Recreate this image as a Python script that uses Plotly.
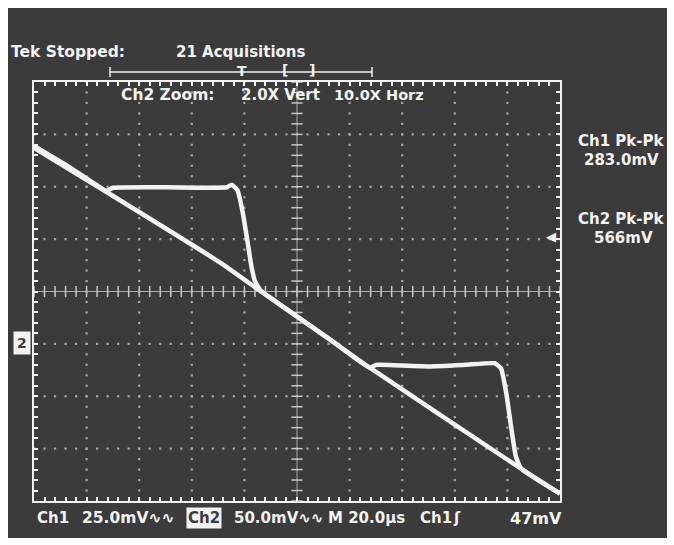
import numpy as np
import plotly.graph_objects as go

# Screen geometry (pixels) for the 674x545 page
W, H = 674, 545
GRID_L, GRID_R, GRID_T, GRID_B = 34, 560, 82, 501
BG = "#3b3b3b"
FG = "#f2f2f2"
DOT = "#a8a8a8"
FONT = "DejaVu Sans, Open Sans, sans-serif"

# Ch1 trace, horizontal divisions (20.0 us/div) vs vertical divisions
ch1_x = [0.00, 1.41, 3.54, 4.33, 5.63, 6.39, 9.24, 10.00]
ch1_y = [2.74, 1.88, 0.55, -0.01, -0.92, -1.46, -3.37, -3.86]

# Ch2 trace (zoomed 2.0X vert, 10.0X horz)
ch2_x = [0.00, 0.60, 1.30, 1.38, 1.50, 2.50, 3.67, 3.76, 3.87, 3.97, 4.06,
         4.13, 4.20, 4.30, 4.45, 5.63, 6.39, 6.50, 6.60, 7.50, 8.20, 8.76,
         8.88, 8.98, 9.08, 9.16, 9.26, 10.00]
ch2_y = [2.78, 2.42, 1.96, 1.92, 1.98, 1.99, 1.99, 2.04, 1.93, 1.50, 0.95,
         0.50, 0.20, 0.03, -0.09, -0.92, -1.46, -1.40, -1.40, -1.43, -1.40,
         -1.37, -1.47, -1.95, -2.65, -3.15, -3.38, -3.86]


def px(x):
    return x / W


def py(y):
    return 1 - y / H


fig = go.Figure()

# Dotted graticule: one dot every fifth of a division on each major line
fine_y = np.round(np.arange(-4, 4.001, 0.2), 3)
fine_x = np.round(np.arange(0, 10.001, 0.2), 3)
gx, gy = [], []
for xv in [1, 2, 3, 4, 6, 7, 8, 9]:
    gx += [xv] * len(fine_y)
    gy += list(fine_y)
for yv in [-3, -2, -1, 1, 2, 3]:
    gx += list(fine_x)
    gy += [yv] * len(fine_x)
fig.add_trace(go.Scatter(x=gx, y=gy, mode="markers", hoverinfo="skip",
                         marker=dict(symbol="square", size=2.2, color=DOT)))

# Centre crosshair with minor tick marks
fig.add_trace(go.Scatter(x=[5, 5], y=[-4, 4], mode="lines", hoverinfo="skip",
                         line=dict(color=DOT, width=1)))
fig.add_trace(go.Scatter(x=[0, 10], y=[0, 0], mode="lines", hoverinfo="skip",
                         line=dict(color=DOT, width=1)))
fig.add_trace(go.Scatter(x=[5] * len(fine_y), y=fine_y, mode="markers",
                         hoverinfo="skip",
                         marker=dict(symbol="line-ew", size=8,
                                     line=dict(color="#c8c8c8", width=1.5))))
fig.add_trace(go.Scatter(x=fine_x, y=[0] * len(fine_x), mode="markers",
                         hoverinfo="skip",
                         marker=dict(symbol="line-ns", size=8,
                                     line=dict(color="#c8c8c8", width=1.5))))

# Waveforms
fig.add_trace(go.Scatter(x=ch1_x, y=ch1_y, mode="lines", name="Ch1",
                         line=dict(color=FG, width=4.5, shape="spline",
                                   smoothing=0.4)))
fig.add_trace(go.Scatter(x=ch2_x, y=ch2_y, mode="lines", name="Ch2",
                         line=dict(color=FG, width=4.5, shape="spline",
                                   smoothing=0.4)))

axis_common = dict(showgrid=False, zeroline=False, showticklabels=False,
                   showline=True, linecolor=FG, linewidth=2, mirror="ticks",
                   ticks="inside", ticklen=4, tickwidth=1.5, tickcolor=FG,
                   tick0=0, dtick=0.2, fixedrange=True)

shapes = [
    # instrument screen
    dict(type="rect", xref="paper", yref="paper", x0=px(8), x1=px(667),
         y0=py(538), y1=py(8), fillcolor=BG, line=dict(width=0), layer="below"),
    # record-position ruler
    dict(type="line", xref="paper", yref="paper", x0=px(110), x1=px(372),
         y0=py(72), y1=py(72), line=dict(color=FG, width=1.5)),
    dict(type="line", xref="paper", yref="paper", x0=px(110), x1=px(110),
         y0=py(67), y1=py(77), line=dict(color=FG, width=1.5)),
    dict(type="line", xref="paper", yref="paper", x0=px(372), x1=px(372),
         y0=py(67), y1=py(77), line=dict(color=FG, width=1.5)),
]

def txt(x, y, s, size=15, anchor="left", color=FG, bg=None, pad=0):
    return dict(xref="paper", yref="paper", x=px(x), y=py(y), text=s,
                showarrow=False, xanchor=anchor, yanchor="middle",
                font=dict(family=FONT, size=size, color=color),
                bgcolor=bg, borderpad=pad)

annotations = [
    txt(10, 52, "<b>Tek Stopped:</b>", 15.5),
    txt(175, 52, "<b>21 Acquisitions</b>", 15),
    txt(242, 71, "<b>T</b>", 14, "center"),
    txt(285, 70, "<b>[</b>", 14, "center"),
    txt(312, 70, "<b>]</b>", 14, "center"),
    txt(120, 95, "<b>Ch2 Zoom:</b>", 15.5),
    txt(240, 95, "<b>2.0X Vert</b>", 15),
    txt(333, 95, "<b>10.0X Horz</b>", 14.5),
    txt(621, 141, "<b>Ch1 Pk-Pk</b>", 15, "center"),
    txt(621, 160, "<b>283.0mV</b>", 15, "center"),
    txt(621, 219, "<b>Ch2 Pk-Pk</b>", 15, "center"),
    txt(623, 238, "<b>566mV</b>", 15, "center"),
    txt(551, 236, "◀", 13, "center"),
    txt(13, 343, "<b>2</b>", 14, "left", color=BG, bg=FG, pad=3),
    txt(36, 518, "<b>Ch1</b>"),
    txt(81, 518, "<b>25.0mV∿∿</b>", 15.5),
    txt(186, 518, "<b>Ch2</b>", 15, "left", color=BG, bg=FG, pad=1),
    txt(233, 518, "<b>50.0mV∿∿</b>", 15),
    txt(327, 518, "<b>M 20.0µs</b>", 15),
    txt(419, 518, "<b>Ch1</b>"),
    txt(452, 518, "<b>ʃ</b>"),
    txt(509, 518, "<b>47mV</b>", 16),
]

fig.update_layout(
    width=W, height=H, autosize=False,
    margin=dict(l=0, r=0, t=0, b=0),
    paper_bgcolor="white", plot_bgcolor=BG,
    showlegend=False,
    xaxis=dict(range=[0, 10], domain=[px(GRID_L), px(GRID_R)], **axis_common),
    yaxis=dict(range=[-4, 4], domain=[py(GRID_B), py(GRID_T)], **axis_common),
    shapes=shapes,
    annotations=annotations,
)

fig.write_html("out.html")
